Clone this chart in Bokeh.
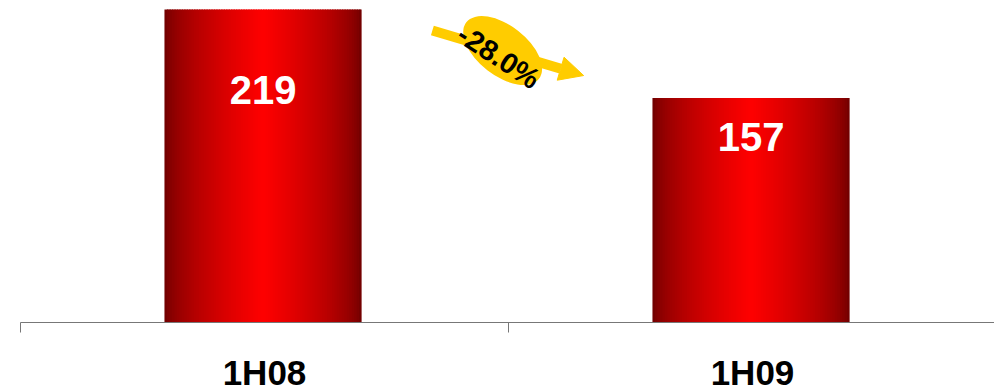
from bokeh.plotting import figure
from bokeh.models import Range1d, FixedTicker, Arrow, NormalHead, ColumnDataSource
from bokeh.core.properties import value
from bokeh.embed import file_html
from bokeh.resources import INLINE

# Data
categories = ["1H08", "1H09"]
values = [219, 157]
change_text = "-28.0%"

# Layout constants
BAR_WIDTH = 0.404
N_STRIPS = 80
EDGE_RED = 0x6a
CENTER_RED = 0xff

p = figure(
    frame_width=974, frame_height=322,
    x_range=Range1d(0, 974 / 488), y_range=Range1d(0, 225.3),
    y_axis_location=None,
    output_backend="svg", toolbar_location=None,
    min_border_left=20, min_border_right=0, min_border_top=0, min_border_bottom=0,
)
p.outline_line_color = None
p.xgrid.visible = False
p.ygrid.visible = False
p.background_fill_color = "white"
p.border_fill_color = "white"


def shade(t):
    # cylinder shading: dark at the edges, broad bright red in the middle
    k = (1 - abs(2 * t - 1)) ** 0.6
    r = int(EDGE_RED + (CENTER_RED - EDGE_RED) * k)
    return "#%02x0000" % r


# Bars drawn as thin vertical strips to get the shaded fill
left, right, top, colors = [], [], [], []
for i, v in enumerate(values):
    cx = i + 0.497
    x0 = cx - BAR_WIDTH / 2
    dw = BAR_WIDTH / N_STRIPS
    for s in range(N_STRIPS):
        l = x0 + s * dw
        r = l + dw * (1.6 if s < N_STRIPS - 1 else 1.0)
        left.append(l)
        right.append(r)
        top.append(v)
        colors.append(shade((s + 0.5) / N_STRIPS))

strips = ColumnDataSource(dict(left=left, right=right, top=top, bottom=[0] * len(top), color=colors))
p.quad(left="left", right="right", top="top", bottom="bottom", fill_color="color",
       line_color=None, source=strips)

# Value labels inside the bars
labels = ColumnDataSource(dict(
    x=[i + 0.497 for i in range(len(values))],
    y=values,
    text=[str(v) for v in values],
    dy=[80, 39],
))
p.text(x="x", y="y", text="text", y_offset="dy", source=labels,
       text_font=value("Liberation Sans"), text_font_style="bold",
       text_font_size="40px", text_color="white",
       text_align="center", text_baseline="middle")

# Change annotation: arrow, yellow ellipse and rotated percentage
p.add_layout(Arrow(
    x_start=0.844, y_start=204.3, x_end=1.154, y_end=172.8,
    line_color="#ffcc00", line_width=10,
    end=NormalHead(size=24, fill_color="#ffcc00", line_color="#ffcc00"),
))
p.ellipse(x=0.988, y=190.3, width=92, height=50, width_units="screen",
          height_units="screen", angle=-0.66, fill_color="#ffcc00", line_color=None,
          level="overlay")
p.text(x=[0.98], y=[186.0], text=[change_text], angle=-0.58,
       text_font=value("Liberation Sans"), text_font_style="bold", text_font_size="29px",
       text_color="black", text_align="center", text_baseline="middle",
       level="overlay")

# Category axis: boundary ticks as minor ticks, labels at the bar centres
xa = p.xaxis[0]
xa.ticker = FixedTicker(ticks=[0.5, 1.5], minor_ticks=[0, 1, 2])
xa.major_label_overrides = {0.5: categories[0], 1.5: categories[1]}
xa.major_tick_line_color = None
xa.major_tick_in = 0
xa.major_tick_out = 0
xa.minor_tick_in = 0
xa.minor_tick_out = 10
xa.minor_tick_line_color = "#777777"
xa.axis_line_color = "#777777"
xa.major_label_text_font = "Liberation Sans"
xa.major_label_text_font_style = "bold"
xa.major_label_text_font_size = "35px"
xa.major_label_text_color = "black"
xa.major_label_standoff = 20

open("out.html", "w").write(file_html(p, INLINE))
